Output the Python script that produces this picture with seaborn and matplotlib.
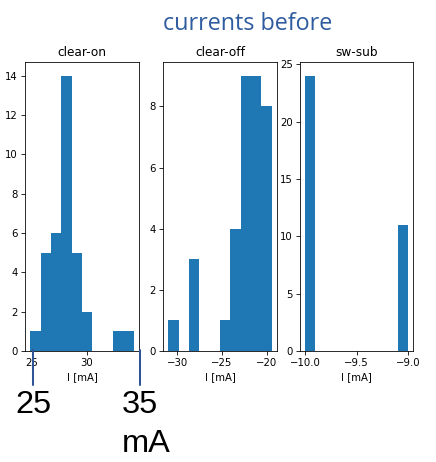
import numpy as np
import pandas as pd
import matplotlib
matplotlib.use("Agg")
import matplotlib.pyplot as plt
from matplotlib.lines import Line2D
import seaborn as sns

# Histogram counts per bin (10 equal bins over each panel's data range)
clear_on_counts = [1, 5, 6, 14, 5, 2, 0, 0, 1, 1]
clear_on_range = (24.88, 34.27)

clear_off_counts = [1, 0, 3, 0, 0, 1, 4, 9, 9, 8]
clear_off_range = (-31.0, -19.45)

sw_sub_counts = [24, 0, 0, 0, 0, 0, 0, 0, 0, 11]
sw_sub_range = (-10.0, -9.0)

panel_titles = ["clear-on", "clear-off", "sw-sub"]
x_label = "I [mA]"
fig_title = "currents before"

sns.set_style("ticks", {"axes.grid": False})
plt.rcParams.update({
    "axes.edgecolor": "black",
    "xtick.color": "black",
    "ytick.color": "black",
    "text.color": "black",
    "axes.labelcolor": "black",
    "xtick.direction": "out",
    "ytick.direction": "out",
    "font.family": ["DejaVu Sans"],
    "font.size": 10,
    "axes.titlesize": 12,
    "axes.labelsize": 10,
    "xtick.labelsize": 10,
    "ytick.labelsize": 10,
    "axes.linewidth": 0.8,
    "xtick.major.width": 0.8,
    "ytick.major.width": 0.8,
    "xtick.major.size": 3.5,
    "ytick.major.size": 3.5,
})

DPI = 73
W, H = 436, 462
fig = plt.figure(figsize=(W / DPI, H / DPI), dpi=DPI)


def px_axes(left, right, top, bottom):
    return fig.add_axes([left / W, 1 - bottom / H, (right - left) / W, (bottom - top) / H])


axes = [
    px_axes(25, 139, 62, 351),
    px_axes(163, 277, 62, 351),
    px_axes(300, 413, 62, 351),
]

panels = [
    (clear_on_counts, clear_on_range),
    (clear_off_counts, clear_off_range),
    (sw_sub_counts, sw_sub_range),
]

for ax, (counts, rng), title in zip(axes, panels, panel_titles):
    n = len(counts)
    step = (rng[1] - rng[0]) / n
    centers = rng[0] + step * (np.arange(n) + 0.5)
    df = pd.DataFrame({"I": centers, "n": counts})
    sns.histplot(data=df, x="I", weights="n", bins=n, binrange=rng, ax=ax,
                 color="#1f77b4", alpha=1.0, linewidth=0, edgecolor="none")
    ax.set_title(title, fontsize=12)
    ax.set_xlabel(x_label)
    ax.set_ylabel("")
    for s in ax.spines.values():
        s.set_visible(True)
        s.set_linewidth(0.8)

fig.text(248 / W, 1 - 30 / H, fig_title, ha="center", va="baseline",
         fontsize=23, color="#2E5C9E", family=["Open Sans", "DejaVu Sans"])

# Range markers below the first panel
line_color = "#2F5597"
for xp in (33.3, 140):
    fig.add_artist(Line2D([xp / W, xp / W], [1 - 350 / H, 1 - 385 / H],
                          transform=fig.transFigure, color=line_color, lw=2.0))

fig.text(15 / W, 1 - 413 / H, "25", ha="left", va="baseline",
         fontsize=32, family=["Liberation Sans", "DejaVu Sans"])
fig.text(122 / W, 1 - 413 / H, "35", ha="left", va="baseline",
         fontsize=32, family=["Liberation Sans", "DejaVu Sans"])
fig.text(122 / W, 1 - 452 / H, "mA", ha="left", va="baseline",
         fontsize=32, family=["Liberation Sans", "DejaVu Sans"])

fig.savefig("out.png", dpi=DPI)
